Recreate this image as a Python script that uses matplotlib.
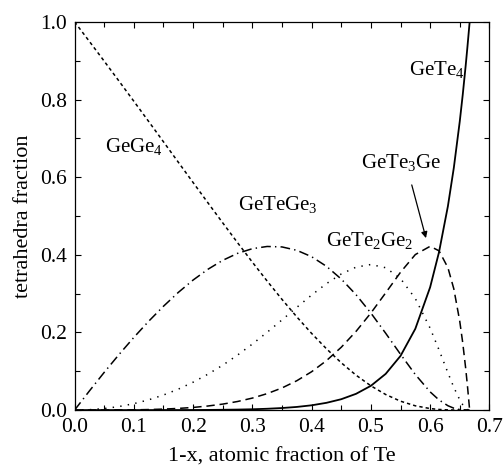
import matplotlib
matplotlib.use("Agg")
import matplotlib.pyplot as plt

plt.rcParams['font.family'] = ['Liberation Serif', 'DejaVu Serif']
plt.rcParams['mathtext.fontset'] = 'custom'
plt.rcParams['mathtext.rm'] = 'Liberation Serif'
plt.rcParams['mathtext.it'] = 'Liberation Serif:italic'
plt.rcParams['lines.scale_dashes'] = False

# 1-x, atomic fraction of Te
te_frac = [0.0, 0.025, 0.05, 0.075, 0.1, 0.125, 0.15, 0.175, 0.2, 0.225, 0.25,
           0.275, 0.3, 0.325, 0.35, 0.375, 0.4, 0.425, 0.45, 0.475, 0.5, 0.525,
           0.55, 0.575, 0.6, 0.615, 0.63, 0.64, 0.65, 0.655, 0.66, 0.663, 0.6667]

gege4 = [1.0, 0.9497, 0.8988, 0.8474, 0.7956, 0.7435, 0.6911, 0.6386, 0.5862,
         0.5340, 0.4823, 0.4312, 0.3811, 0.3323, 0.2852, 0.2401, 0.1975, 0.1580,
         0.1219, 0.0899, 0.0625, 0.0401, 0.0229, 0.0110, 0.0039, 0.0016, 0.0005,
         0.00015, 0.00003, 0.0, 0.0, 0.0, 0.0]

getege3 = [0.0, 0.0493, 0.0972, 0.1432, 0.1872, 0.2288, 0.2675, 0.3031, 0.3350,
           0.3627, 0.3858, 0.4037, 0.4158, 0.4215, 0.4203, 0.4116, 0.3951, 0.3704,
           0.3376, 0.2972, 0.2500, 0.1979, 0.1438, 0.0916, 0.0469, 0.0261, 0.0112,
           0.0049, 0.0014, 0.0005, 0.0001, 0.0, 0.0]

gete2ge2 = [0.0, 0.0010, 0.0039, 0.0091, 0.0165, 0.0264, 0.0388, 0.0539, 0.0718,
            0.0924, 0.1157, 0.1417, 0.1701, 0.2005, 0.2323, 0.2646, 0.2963, 0.3257,
            0.3506, 0.3682, 0.3750, 0.3667, 0.3389, 0.2874, 0.2109, 0.1551, 0.0961,
            0.0585, 0.0264, 0.0139, 0.0049, 0.0015, 0.0]

gete3ge = [0.0, 0.0000, 0.0001, 0.0003, 0.0006, 0.0014, 0.0025, 0.0043, 0.0068,
           0.0105, 0.0154, 0.0221, 0.0309, 0.0424, 0.0570, 0.0756, 0.0988, 0.1273,
           0.1618, 0.2028, 0.2500, 0.3020, 0.3550, 0.4006, 0.4219, 0.4103, 0.3669,
           0.3122, 0.2288, 0.1736, 0.1076, 0.0621, 0.0]

gete4 = [0.0, 0.0, 0.0, 0.0, 0.0, 0.0, 0.0001, 0.0001, 0.0002, 0.0004, 0.0008,
         0.0013, 0.0021, 0.0034, 0.0053, 0.0081, 0.0123, 0.0187, 0.0280, 0.0419,
         0.0625, 0.0933, 0.1395, 0.2094, 0.3164, 0.4069, 0.5253, 0.6243, 0.7435,
         0.8120, 0.8874, 0.9363, 1.0]

fig = plt.figure(figsize=(5.04, 4.66), dpi=100)
ax = fig.add_axes([0.148, 0.120, 0.823, 0.833])

ax.plot(te_frac, gege4, color='black', lw=1.1, linestyle=(0, (2.4, 2.2)))
ax.plot(te_frac, getege3, color='black', lw=1.1, linestyle=(0, (7, 3, 1, 3)))
ax.plot(te_frac, gete2ge2, color='black', lw=1.1, linestyle=(0, (1, 4.5)))
ax.plot(te_frac, gete3ge, color='black', lw=1.1, linestyle=(0, (6, 3.5)))
ax.plot(te_frac, gete4, color='black', lw=1.3, linestyle='-')

ax.set_xlim(0, 0.7)
ax.set_ylim(0, 1.0)
ax.set_xticks([0.0, 0.1, 0.2, 0.3, 0.4, 0.5, 0.6, 0.7])
ax.set_yticks([0.0, 0.2, 0.4, 0.6, 0.8, 1.0])
ax.set_xticks([0.05, 0.15, 0.25, 0.35, 0.45, 0.55, 0.65], minor=True)
ax.set_yticks([0.1, 0.3, 0.5, 0.7, 0.9], minor=True)
ax.tick_params(which='both', direction='in', top=True, right=True,
               labelsize=15.5, width=0.8)
ax.tick_params(which='major', length=4.5)
ax.tick_params(which='minor', length=3.5)
ax.tick_params(axis='x', which='major', pad=6.0)
ax.tick_params(axis='y', which='major', pad=5.2)
for s in ax.spines.values():
    s.set_linewidth(0.9)

ax.set_xlabel('1-x, atomic fraction of Te', fontsize=16)
ax.set_ylabel('tetrahedra fraction', fontsize=16)
ax.xaxis.set_label_coords(0.5, -0.096)
ax.yaxis.set_label_coords(-0.100, 0.5)

fs = 15
ax.text(0.0515, 0.666, 'GeGe$_4$', fontsize=fs)
ax.text(0.276, 0.515, 'GeTeGe$_3$', fontsize=fs)
ax.text(0.425, 0.423, 'GeTe$_2$Ge$_2$', fontsize=fs)
ax.text(0.484, 0.623, 'GeTe$_3$Ge', fontsize=fs)
ax.text(0.565, 0.862, 'GeTe$_4$', fontsize=fs)
ax.annotate('', xy=(0.593, 0.443), xytext=(0.569, 0.580),
            arrowprops=dict(arrowstyle='-|>', color='black', lw=0.9,
                            mutation_scale=9, shrinkA=0, shrinkB=0))

fig.savefig('out.png', dpi=100)
